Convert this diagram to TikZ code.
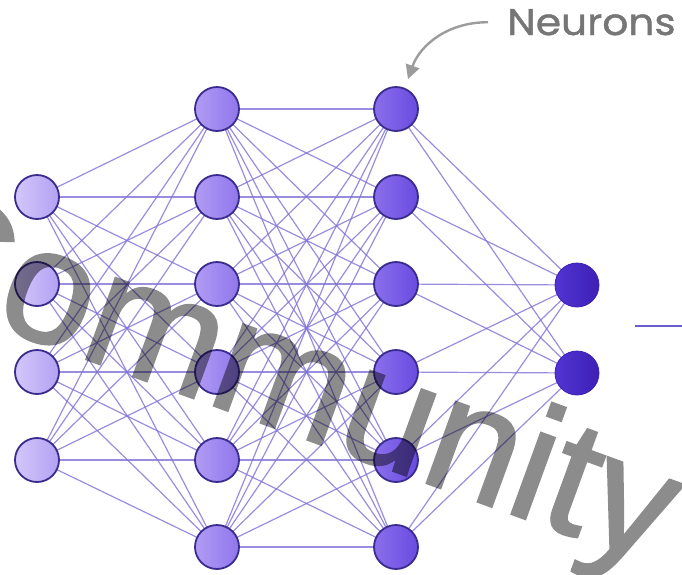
\documentclass[tikz,border=0pt]{standalone}
\usepackage{fontspec}
\setmainfont{Liberation Sans}
\newfontfamily\handfont[FakeBold=1.2]{Poppins}
\newfontfamily\wmfont[FakeBold=1.5]{Liberation Sans}
\usetikzlibrary{arrows.meta,backgrounds}
\definecolor{edgec}{HTML}{7F72D6}
\definecolor{bordc}{HTML}{3A2B8E}
\definecolor{inL}{HTML}{D3C7FB}
\definecolor{inR}{HTML}{B3A1F3}
\definecolor{hoL}{HTML}{B09CF4}
\definecolor{hoR}{HTML}{9076EC}
\definecolor{htL}{HTML}{8A6FEC}
\definecolor{htR}{HTML}{6A4BE0}
\definecolor{ouL}{HTML}{5134D2}
\definecolor{ouR}{HTML}{3E20B6}
\definecolor{lblc}{HTML}{767676}
\definecolor{arrc}{HTML}{9C9C9C}
\definecolor{sidec}{HTML}{6B5CCB}
\begin{document}
\begin{tikzpicture}[x=1pt,y=-1pt,
  neuron/.style={circle,minimum size=44pt,inner sep=0pt,draw=bordc,line width=1.8pt},
  inneuron/.style={neuron,left color=inL,right color=inR},
  honeuron/.style={neuron,left color=hoL,right color=hoR},
  htneuron/.style={neuron,left color=htL,right color=htR},
  outneuron/.style={neuron,left color=ouL,right color=ouR,draw=ouR,line width=0.8pt},
  edge/.style={draw=edgec,line width=1.2pt,draw opacity=0.8},
  watermark/.style={text=black,inner sep=0pt,
    font=\wmfont\fontsize{163}{163}\selectfont},
  lbl/.style={text=lblc,inner sep=0pt,font=\handfont\fontsize{37}{37}\selectfont},
  pointer/.style={draw=arrc,line width=2.4pt,-{Triangle[length=14pt,width=14pt]}}
]
\useasboundingbox (0,0) rectangle (682,574);

% input layer
\foreach \i/\y in {1/197,2/284,3/372,4/460}
  \node[inneuron] (a\i) at (37,\y) {};
% hidden layer 1
\foreach \i/\y in {1/109,2/197,3/284,4/372,5/460,6/547}
  \node[honeuron] (b\i) at (217,\y) {};
% hidden layer 2
\foreach \i/\y in {1/109,2/197,3/284,4/372,5/460,6/547}
  \node[htneuron] (c\i) at (396,\y) {};
% output layer
\foreach \i/\y in {1/285,2/373}
  \node[outneuron] (d\i) at (577,\y) {};

\begin{scope}[on background layer]
\foreach \i in {1,...,4}
  \foreach \j in {1,...,6}
    \draw[edge] (a\i.center) -- (b\j.center);
\foreach \i in {1,...,6}
  \foreach \j in {1,...,6}
    \draw[edge] (b\i.center) -- (c\j.center);
\foreach \i in {1,...,6}
  \foreach \j in {1,2}
    \draw[edge] (c\i.center) -- (d\j.center);
\end{scope}

% side line
\coordinate (s1) at (635,326);
\coordinate (s2) at (682,326);
\draw[draw=sidec,line width=2.8pt] (s1) -- (s2);

% label and pointer
\node[lbl,anchor=base west,xscale=1.1] (neur) at (507,35) {Neurons};
\draw[pointer] ([xshift=-19pt]neur.west) .. controls (448,22) and (420,45) .. ([xshift=12pt,yshift=7pt]c1.north);

% watermark
\begin{scope}[transparency group,opacity=0.45]
\clip (0,0) rectangle (682,574);
\node[watermark,rotate=-20,anchor=base west] (wm) at (-120,284) {Community};
\end{scope}
\end{tikzpicture}
\end{document}
